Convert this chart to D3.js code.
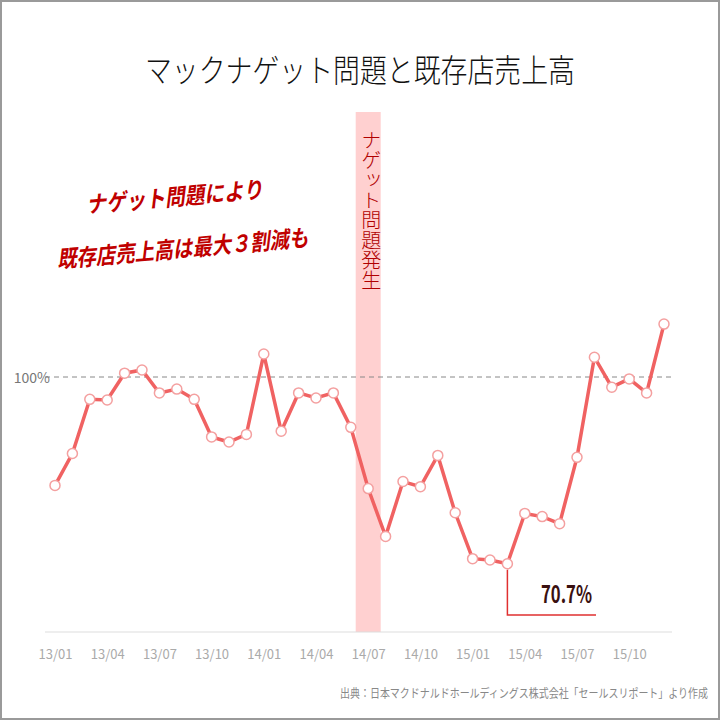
<!DOCTYPE html><html><head><meta charset="utf-8">
<script src="https://cdn.jsdelivr.net/npm/d3@7"></script>
<style>body{margin:0;background:#fff}svg{display:block}</style></head><body>
<script>
const months=["13/01","13/02","13/03","13/04","13/05","13/06","13/07","13/08","13/09","13/10","13/11","13/12","14/01","14/02","14/03","14/04","14/05","14/06","14/07","14/08","14/09","14/10","14/11","14/12","15/01","15/02","15/03","15/04","15/05","15/06","15/07","15/08","15/09","15/10","15/11","15/12"];
const values=[83.0,88.0,96.5,96.4,100.6,101.1,97.5,98.1,96.5,90.6,89.8,91.0,103.6,91.5,97.5,96.7,97.5,92.1,82.5,75.0,83.6,82.8,87.7,78.7,71.5,71.3,70.7,78.6,78.1,77.0,87.4,103.1,98.4,99.7,97.5,108.3];
const tickLabels=["13/01","13/04","13/07","13/10","14/01","14/04","14/07","14/10","15/01","15/04","15/07","15/10"];
const W=720,H=720;
const svg=d3.select("body").append("svg").attr("width",W).attr("height",H);
svg.append("rect").attr("x",1).attr("y",1).attr("width",W-2).attr("height",H-2).attr("fill","#fff").attr("stroke","#9a9a9a").attr("stroke-width",2);
const x=d3.scalePoint().domain(months).range([55,664]);
const y=d3.scaleLinear().domain([60,100]).range([632,377]);
const jp="'Noto Sans CJK JP',sans-serif";
svg.append("text").attr("x",145).attr("y",82).attr("textLength",430).attr("lengthAdjust","spacingAndGlyphs").attr("font-family",jp).attr("font-size",32).attr("font-weight",300).attr("fill","#111").text("マックナゲット問題と既存店売上高");
// band
const bx=x("14/07");
svg.append("rect").attr("x",bx-12.5).attr("y",112).attr("width",25).attr("height",520).attr("fill","#ffd0d0");
svg.append("text").attr("x",bx).attr("y",130).attr("font-family",jp).attr("font-size",20).attr("font-weight",300).attr("fill","#b00000").attr("style","writing-mode:vertical-rl").attr("dominant-baseline","middle").text("ナゲット問題発生");
// 100% line
svg.append("line").attr("x1",45).attr("x2",672).attr("y1",y(100)).attr("y2",y(100)).attr("stroke","#888").attr("stroke-dasharray","5,4");
svg.append("text").attr("x",50).attr("y",y(100)+6).attr("text-anchor","end").attr("font-family",jp).attr("font-size",14).attr("fill","#777").text("100%");
// axis
const ax=svg.append("g").attr("transform","translate(0,632)").call(d3.axisBottom(x).tickValues(tickLabels).tickSize(0).tickPadding(18));
ax.select(".domain").attr("stroke","#ddd").attr("d","M45,0H672");
ax.selectAll("text").attr("font-family",jp).attr("font-size",13).attr("fill","#aaa");
// line
svg.append("path").datum(values).attr("fill","none").attr("stroke","#f06262").attr("stroke-width",3.5)
 .attr("d",d3.line().x((d,i)=>x(months[i])).y(d=>y(d)));
svg.selectAll("circle").data(values).join("circle").attr("cx",(d,i)=>x(months[i])).attr("cy",d=>y(d)).attr("r",5).attr("fill","#fff").attr("stroke","#f4a0a0").attr("stroke-width",1.5);
// annotation
const mi=values.indexOf(d3.min(values)),mx=x(months[mi]),my=y(values[mi]);
svg.append("path").attr("d",`M${mx},${my+6}V615H596`).attr("fill","none").attr("stroke","#e03030").attr("stroke-width",1.5);
svg.append("text").attr("x",541).attr("y",603).attr("textLength",51).attr("lengthAdjust","spacingAndGlyphs").attr("font-family",jp).attr("font-size",24).attr("font-weight",700).attr("fill","#3a1010").text(d3.min(values).toFixed(1)+"%");
// red comment
const c=svg.append("g").attr("transform","rotate(-5,180,220)").attr("font-family",jp).attr("font-size",23).attr("font-weight",700).attr("font-style","italic").attr("fill","#c00000");
c.append("text").attr("x",88).attr("y",205).attr("textLength",177).attr("lengthAdjust","spacingAndGlyphs").text("ナゲット問題により");
c.append("text").attr("x",54).attr("y",257).attr("textLength",252).attr("lengthAdjust","spacingAndGlyphs").text("既存店売上高は最大３割減も");
svg.append("text").attr("x",340).attr("y",698).attr("textLength",368).attr("lengthAdjust","spacingAndGlyphs").attr("font-family",jp).attr("font-size",12).attr("fill","#888").text("出典：日本マクドナルドホールディングス株式会社「セールスリポート」より作成");
</script></body></html>
